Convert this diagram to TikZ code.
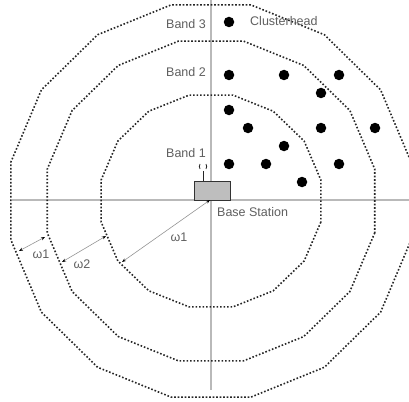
\documentclass[tikz,border=0pt]{standalone}
\usepackage{fontspec}
\setmainfont{Liberation Sans}
\usetikzlibrary{arrows.meta}
\definecolor{axisgray}{RGB}{185,185,185}
\definecolor{txtgray}{RGB}{95,95,95}
\definecolor{boxgray}{RGB}{190,190,190}
\begin{document}
\begin{tikzpicture}[x=1pt,y=-1pt,
  band/.style={line width=1.6pt, dash pattern=on 1.6pt off 1.9pt, black!85},
  axisline/.style={axisgray, line width=1.5pt},
  chdot/.style={circle, fill=black, inner sep=0pt, minimum size=10.5pt},
  lbl/.style={text=txtgray, font=\fontsize{12.5}{14}\selectfont, inner sep=0pt},
  dim/.style={axisgray!80!black, line width=0.6pt, {Stealth[black,length=4pt,width=3pt]}-{Stealth[black,length=4pt,width=3pt]}}]
\useasboundingbox (0,0) rectangle (409,401);
% axes
\coordinate (axT) at (211,0);
\coordinate (axB) at (211,390);
\coordinate (axL) at (12,200);
\coordinate (axR) at (409,200);
\draw[axisline] (axT) -- (axB);
\draw[axisline] (axL) -- (axR);
% bands (16-gons)
\begin{scope}[shift={(211,201)}]
\draw[band] (11.25:112 and 108) \foreach \a in {1,...,15} { -- (11.25+22.5*\a:112 and 108) } -- cycle;
\draw[band] (11.25:167 and 163) \foreach \a in {1,...,15} { -- (11.25+22.5*\a:167 and 163) } -- cycle;
\draw[band] (11.25:204 and 200) \foreach \a in {1,...,15} { -- (11.25+22.5*\a:204 and 200) } -- cycle;
\end{scope}
% base station
\node[draw=black!80, line width=0.8pt, fill=boxgray, minimum width=36pt, minimum height=19pt, inner sep=0pt] (bs) at (212,190.5) {};
\coordinate (ant) at (203,171);
\draw[black!85, line width=1pt] (ant) -- (203,181);
\draw[black!85, line width=0.8pt] (200,169) arc (150:210:5);
\draw[black!85, line width=0.8pt] (206,169) arc (30:-30:5);
% cluster heads
\foreach \p [count=\i] in {(229,22),(229,75),(284,75),(339,75),(321,93),(229,110),(248,128),(321,128),(375,128),(284,146),(229,164),(266,164),(339,164),(302,182)}
  \node[chdot] (ch\i) at \p {};
% labels
\node[lbl, anchor=east] (b3) at (206,24) {Band 3};
\node[lbl, anchor=east] (b2) at (206,72) {Band 2};
\node[lbl, anchor=east] (b1) at (206,153) {Band 1};
\node[lbl, anchor=west] (chl) at (250,21) {Clusterhead};
\node[lbl, anchor=west] (bsl) at (217,212) {Base Station};
% dimension arrows
\coordinate (c0) at (210,200);
\coordinate (p1) at (122,262);
\coordinate (p2a) at (106,236);
\coordinate (p2b) at (62,262);
\coordinate (p3a) at (45,237);
\coordinate (p3b) at (19,251);
\draw[dim] (c0) -- (p1);
\draw[dim] (p2a) -- (p2b);
\draw[dim] (p3a) -- (p3b);
\node[lbl] (w1a) at (179,237) {ω1};
\node[lbl] (w2) at (82,264) {ω2};
\node[lbl] (w1b) at (41,254) {ω1};
\end{tikzpicture}
\end{document}
